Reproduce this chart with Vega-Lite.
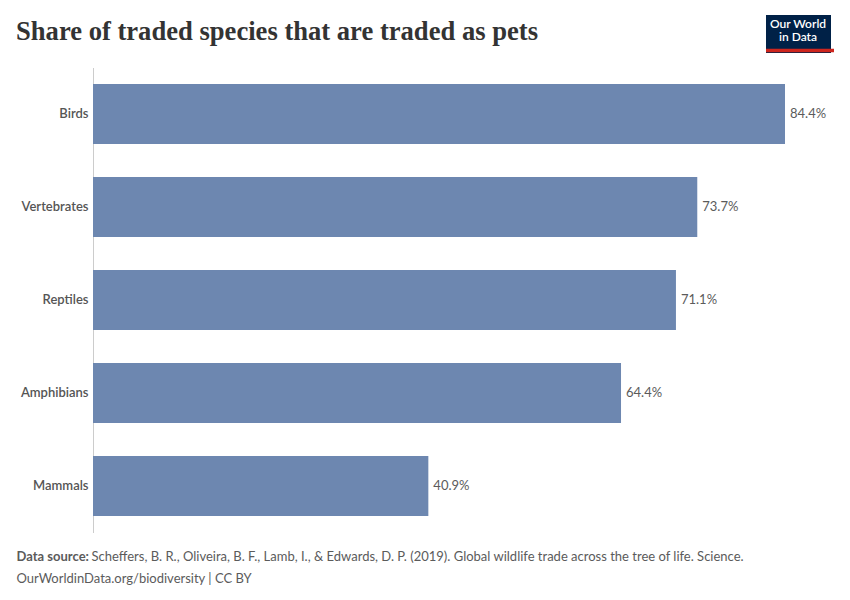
{
  "$schema": "https://vega.github.io/schema/vega-lite/v6.json",
  "width": 692,
  "height": 465,
  "autosize": {"type": "none"},
  "padding": {"left": 93, "top": 67.5, "right": 65, "bottom": 67.5},
  "background": "white",
  "config": {"view": {"stroke": null}},
  "title": {
    "text": "Share of traded species that are traded as pets",
    "anchor": "start",
    "frame": "group",
    "dx": -77,
    "dy": 26,
    "offset": -26,
    "baseline": "alphabetic",
    "font": "Liberation Serif",
    "fontSize": 26.6,
    "fontWeight": "bold",
    "color": "#333333"
  },
  "data": {
    "values": [
      {"species": "Birds", "share": 0.844},
      {"species": "Vertebrates", "share": 0.737},
      {"species": "Reptiles", "share": 0.711},
      {"species": "Amphibians", "share": 0.644},
      {"species": "Mammals", "share": 0.409}
    ]
  },
  "layer": [
    {
      "mark": {"type": "bar"},
      "encoding": {
        "y": {
          "field": "species", "type": "nominal", "sort": null,
          "scale": {"paddingInner": 0.355, "paddingOuter": 0.1775},
          "axis": {
            "orient": "left",
            "labelFont": "Lato", "labelFontSize": 13, "labelFontWeight": 600, "labelColor": "#555555", "labelPadding": 5,
            "ticks": false, "domainColor": "#cccccc", "grid": false,
            "title": "Data source:", "titleAngle": 0, "titleX": -77, "titleY": 492.5,
            "titleAlign": "left", "titleBaseline": "alphabetic",
            "titleFont": "Lato", "titleFontSize": 13, "titleFontWeight": "bold", "titleColor": "#5b5b5b"
          }
        },
        "x": {
          "field": "share", "type": "quantitative",
          "scale": {"domain": [0, 0.844], "nice": false, "zero": true},
          "axis": {
            "orient": "bottom", "labels": false, "ticks": false, "domain": false, "grid": false,
            "title": "Scheffers, B. R., Oliveira, B. F., Lamb, I., & Edwards, D. P. (2019). Global wildlife trade across the tree of life. Science.",
            "titleX": -2, "titleY": 27.5, "titleAlign": "left", "titleAnchor": "start", "titleBaseline": "alphabetic",
            "titleFont": "Lato", "titleFontSize": 13, "titleFontWeight": "normal", "titleColor": "#5b5b5b"
          }
        },
        "color": {
          "field": "species", "type": "nominal",
          "scale": {"range": ["#6d87b0"]},
          "legend": {
            "orient": "none", "legendX": 673, "legendY": -52.5, "values": ["Birds"],
            "fillColor": "#002147", "padding": 4,
            "title": ["Our World", "in Data"],
            "titleColor": "white", "titleFont": "Lato", "titleFontSize": 12, "titleFontWeight": 600,
            "titleAlign": "center", "titleAnchor": "middle", "titleLineHeight": 13, "titlePadding": 0,
            "labelExpr": "''", "labelFontSize": 0, "symbolSize": 0, "symbolOpacity": 0, "symbolStrokeWidth": 0, "rowPadding": 0
          }
        },
        "opacity": {
          "datum": "line", "type": "ordinal",
          "scale": {"range": [1]},
          "legend": {
            "orient": "none", "legendX": 673, "legendY": -51, "padding": 0, "title": null,
            "symbolType": "M-1,-0.05H1V0.05H-1Z", "symbolSize": 4624,
            "symbolFillColor": "#ce261e", "symbolStrokeWidth": 0, "symbolStrokeColor": "#ce261e", "symbolOpacity": 1,
            "labelExpr": "''", "labelFontSize": 0
          }
        }
      }
    },
    {
      "mark": {"type": "text", "align": "left", "baseline": "middle", "dx": 5, "font": "Lato", "fontSize": 13, "color": "#5b5b5b"},
      "encoding": {
        "y": {
          "field": "species", "type": "nominal", "sort": null,
          "axis": {
            "orient": "right", "labels": false, "ticks": false, "domain": false, "grid": false,
            "title": "OurWorldinData.org/biodiversity | CC BY", "titleAngle": 0, "titleX": -769, "titleY": 514.5,
            "titleAlign": "left", "titleBaseline": "alphabetic",
            "titleFont": "Lato", "titleFontSize": 13, "titleFontWeight": "normal", "titleColor": "#5b5b5b"
          }
        },
        "x": {"field": "share", "type": "quantitative"},
        "text": {"field": "share", "type": "quantitative", "format": ".1%"}
      }
    }
  ],
  "resolve": {"axis": {"y": "independent"}, "legend": {"color": "independent", "opacity": "independent"}}
}
